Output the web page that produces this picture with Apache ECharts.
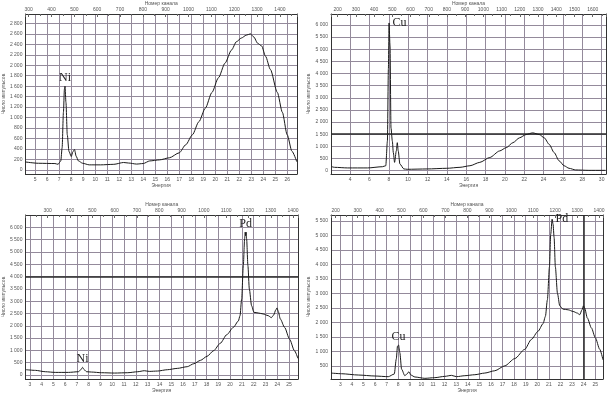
<!DOCTYPE html>
<html><head><meta charset="utf-8">
<script src="https://cdn.jsdelivr.net/npm/echarts@6/dist/echarts.min.js"></script>
<style>html,body{margin:0;padding:0;background:#fff}#c{width:616px;height:394px}</style>
</head><body><div id="c"></div><script>
// ---- data (energy keV, counts) ----
const energyNi = [4.18,5.27,6.64,6.9,7.13,7.24,7.35,7.43,7.48,7.56,7.67,7.81,8.0,8.14,8.27,8.41,8.6,8.95,9.5,10.45,11.55,12.36,12.77,13.45,14.0,14.54,15.36,16.18,17.0,17.55,18.1,18.64,19.18,19.73,20.27,20.82,21.36,21.77,22.18,22.59,22.94,23.22,23.54,23.87,24.2,24.6,25.18,25.6,26.0,26.4,26.8];
const countsNi = [150,125,120,106,170,420,1100,1540,1600,1290,670,355,255,345,390,260,170,125,95,95,105,140,130,110,120,170,190,230,325,480,670,920,1180,1480,1760,2040,2290,2450,2520,2575,2600,2540,2420,2370,2170,1920,1480,1100,670,355,155];

const energyCu = [2.12,2.4,3.76,5.81,7.34,7.69,7.86,7.96,8.03,8.13,8.23,8.37,8.47,8.6,8.78,8.88,8.98,9.15,9.56,9.9,11.95,14.0,15.36,16.39,17.41,18.44,19.46,20.14,20.83,21.51,22.19,22.87,23.56,24.07,24.58,25.09,25.6,26.12,26.63,27.31,28.68,30.04,30.4];
const countsCu = [160,135,110,110,160,200,1215,4190,6080,5130,1756,1215,743,340,810,1150,810,270,68,54,68,95,135,200,340,540,810,945,1150,1350,1485,1555,1485,1350,1080,743,405,200,95,27,10,10,10];

const energyPdNi = [2.69,3.48,4.32,5.16,6.28,7.12,7.34,7.48,7.62,7.82,8.24,9.08,10.2,11.32,12.16,12.72,13.14,13.84,14.68,15.52,16.36,16.92,17.48,18.04,18.6,19.16,19.72,20.28,20.7,20.84,20.98,21.12,21.23,21.28,21.32,21.36,21.4,21.51,21.63,21.82,22.02,22.38,22.8,23.22,23.5,23.7,23.87,23.98,24.09,24.26,24.62,25.04,25.46,25.75];
const countsPdNi = [217,190,135,108,108,135,217,312,217,135,122,95,81,95,135,176,149,163,217,271,339,461,596,759,989,1287,1640,1938,2195,2412,3089,4444,5528,5800,5650,5800,5528,4444,3496,2818,2547,2520,2480,2412,2330,2440,2640,2724,2574,2276,1938,1463,989,678];

const energyPdCu = [2.2,3.11,4.55,5.99,7.14,7.66,7.83,7.94,8.03,8.14,8.29,8.57,8.75,8.92,9.09,9.44,10.3,11.16,12.02,12.6,13.03,13.75,14.61,15.47,16.33,17.2,18.06,18.92,19.49,20.07,20.5,20.7,20.87,21.05,21.16,21.28,21.36,21.45,21.56,21.74,21.94,22.22,22.66,23.09,23.46,23.66,23.86,23.98,24.09,24.32,24.67,25.01,25.39,25.67];
const countsPdCu = [250,227,182,148,125,216,727,1181,1215,954,386,159,216,295,182,114,68,91,136,170,125,159,193,250,329,500,750,1068,1409,1693,1954,2204,2772,3908,5044,5555,5385,4930,3908,2999,2567,2454,2431,2374,2317,2261,2431,2567,2488,2147,1806,1465,1068,704];

// axis ranges [min, max, step]
const energyRanges = [[4.18,26.82,1],[2.03,30.45,2],[2.63,25.76,1],[2.2,25.67,1]];
const channelRanges = [[285.8,1474.7,100],[163.4,1673,100],[200,1422,100],[178.8,1418,100]];
const countRanges = [[-80,2980,200],[-140,6450,500],[-160,6495,500],[45,5700,500]];

// peak annotations: [panel, energy, counts, text, position]
const peakLabels = [
  [0, 7.48, 1600, 'Ni', 'top'],
  [1, 8.03, 6080, 'Cu', 'right'],
  [2, 21.32, 5800, 'Pd', 'top'],
  [2, 7.48, 312, 'Ni', 'top'],
  [3, 21.28, 5555, 'Pd', 'right'],
  [3, 8.03, 1215, 'Cu', 'top']
];
// emphasised cursor lines: [panel, axis, value]
const cursorLines = [[1,'yAxis',1500],[2,'yAxis',4000],[3,'xAxis',24]];

const nameY = 'Число импульсов';
const nameBottom = 'Энергия';
const nameTop = 'Номер канала';

const seriesData = [[energyNi,countsNi],[energyCu,countsCu],[energyPdNi,countsPdNi],[energyPdCu,countsPdCu]];

// ---- layout ----
const layout = [
  {left:20, top:10, width:277, height:164},
  {left:331, top:12, width:275, height:162},
  {left:23, top:215, width:275, height:165},
  {left:331, top:215, width:272, height:165}
];
const yNameGap = [14, 12, 16, 13];

const gridColor = '#948a9b';
const frameColor = '#333';
const txt = '#555';
const font = 'Liberation Sans';

function fmt(v){
  const r = Math.round(v);
  if (Math.abs(r) >= 1000) return Math.floor(r/1000) + ' ' + String(r%1000).padStart(3,'0');
  return String(r);
}

const grids=[], xAxes=[], yAxes=[], series=[];
for (let i=0;i<4;i++){
  grids.push(Object.assign({show:false, containLabel:false}, layout[i]));
  const [emin,emax,estep] = energyRanges[i];
  const [cmin,cmax,cstep] = channelRanges[i];
  const [ymin,ymax,ystep] = countRanges[i];
  xAxes.push({
    type:'value', gridIndex:i, position:'bottom', min:emin, max:emax,
    minInterval:estep, maxInterval:estep, splitNumber:Math.round((emax-emin)/estep),
    axisLine:{show:true, onZero:false, lineStyle:{color:frameColor, width:1}},
    axisTick:{show:false},
    axisLabel:{fontSize:5, color:txt, margin:3, fontFamily:font, showMinLabel:false, showMaxLabel:false, formatter:v=>String(Math.round(v))},
    splitLine:{show:true, lineStyle:{color:gridColor, width:1}},
    name:nameBottom, nameLocation:'middle', nameGap:9, nameTextStyle:{fontSize:5, color:txt, fontFamily:font}
  });
  xAxes.push({
    type:'value', gridIndex:i, position:'top', min:cmin, max:cmax,
    minInterval:cstep, maxInterval:cstep, splitNumber:Math.round((cmax-cmin)/cstep),
    axisLine:{show:true, onZero:false, lineStyle:{color:frameColor, width:1}},
    axisTick:{show:true, inside:true, length:3, lineStyle:{color:'#666'}},
    minorTick:{show:true, splitNumber:2, length:2, lineStyle:{color:'#666'}},
    axisLabel:{fontSize:5, color:txt, margin:2, fontFamily:font, showMinLabel:false, showMaxLabel:false, formatter:v=>String(Math.round(v))},
    splitLine:{show:false},
    name:nameTop, nameLocation:'middle', nameGap:8, nameTextStyle:{fontSize:5, color:txt, fontFamily:font}
  });
  yAxes.push({
    type:'value', gridIndex:i, position:'left', min:ymin, max:ymax,
    minInterval:ystep, maxInterval:ystep, splitNumber:Math.round((ymax-ymin)/ystep),
    axisLine:{show:true, onZero:false, lineStyle:{color:frameColor, width:1}},
    axisTick:{show:false},
    axisLabel:{fontSize:5, color:txt, margin:3, fontFamily:font, showMinLabel:false, showMaxLabel:false, formatter:fmt},
    splitLine:{show:true, lineStyle:{color:gridColor, width:1}},
    name:nameY, nameLocation:'middle', nameGap:yNameGap[i], nameRotate:90, nameTextStyle:{fontSize:5, color:txt, fontFamily:font}
  });
  yAxes.push({
    type:'value', gridIndex:i, position:'right', min:ymin, max:ymax,
    axisLine:{show:true, onZero:false, lineStyle:{color:frameColor, width:1}},
    axisTick:{show:false}, axisLabel:{show:false}, splitLine:{show:false}
  });
  const [E,C] = seriesData[i];
  const data = E.map((e,k)=>[e, C[k]]);
  const mp = peakLabels.filter(p=>p[0]===i).map(p=>({
    coord:[p[1],p[2]], value:p[3],
    label:{show:true, formatter:p[3], position:p[4], distance:p[4]==='right'?3:2,
      fontFamily:'Liberation Serif', fontSize:12, color:'#222'}
  }));
  const ml = cursorLines.filter(c=>c[0]===i).map(c=>({[c[1]]:c[2]}));
  series.push({
    type:'line', xAxisIndex:2*i, yAxisIndex:2*i, data,
    showSymbol:false, symbol:'none', smooth:0.25, smoothMonotone:'x',
    lineStyle:{color:'#1a1a1a', width:1}, silent:true, z:5,
    markPoint:{symbol:'circle', symbolSize:1, itemStyle:{color:'rgba(0,0,0,0)'}, silent:true, data:mp},
    markLine:{symbol:'none', silent:true, label:{show:false}, lineStyle:{color:'#2a2a2a', width:1.5, type:'solid'}, data:ml}
  });
}

const chart = echarts.init(document.getElementById('c'), null, {renderer:'canvas'});
chart.setOption({
  backgroundColor:'#ffffff', animation:false,
  grid:grids, xAxis:xAxes, yAxis:yAxes, series
});
</script></body></html>
